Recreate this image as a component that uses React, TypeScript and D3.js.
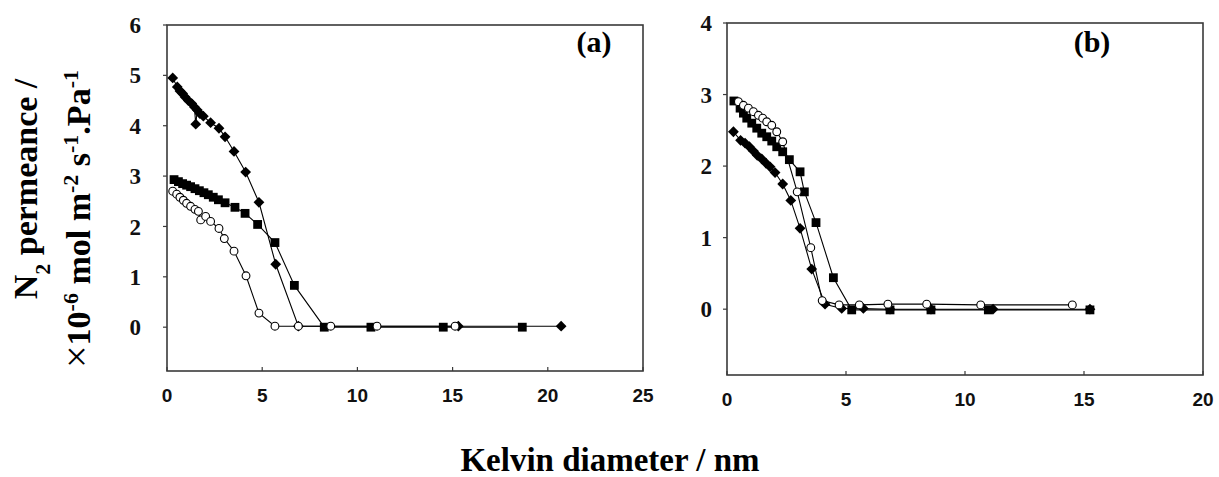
import React from "react";
import * as d3 from "d3";

// ---------- Panel (a) data ----------
const aDiamondX = [0.30,0.54,0.68,0.82,0.95,1.12,1.30,1.44,1.51,1.59,1.73,1.91,2.29,2.73,3.05,3.52,4.13,4.83,5.71,6.90,15.3,20.7];
const aDiamondY = [4.95,4.77,4.69,4.64,4.57,4.50,4.44,4.37,4.03,4.31,4.24,4.19,4.06,3.95,3.78,3.49,3.08,2.48,1.25,0.02,0.02,0.02];
const aSquareX = [0.37,0.60,0.82,1.03,1.24,1.47,1.70,1.94,2.17,2.43,2.70,3.05,3.57,4.10,4.76,5.67,6.69,8.26,10.71,14.51,18.66];
const aSquareY = [2.93,2.89,2.85,2.82,2.79,2.75,2.71,2.67,2.63,2.58,2.53,2.47,2.38,2.26,2.04,1.68,0.83,0.0,0.0,0.0,0.0];
const aCircleX = [0.30,0.51,0.68,0.86,1.03,1.24,1.47,1.65,1.77,2.03,2.29,2.73,3.01,3.52,4.15,4.83,5.67,6.90,8.60,11.03,15.13];
const aCircleY = [2.70,2.64,2.58,2.52,2.46,2.40,2.34,2.30,2.13,2.20,2.10,1.96,1.76,1.51,1.02,0.28,0.02,0.02,0.02,0.02,0.02];

// ---------- Panel (b) data ----------
const bSquareX = [0.29,0.55,0.69,0.83,1.04,1.25,1.46,1.67,1.88,2.09,2.34,2.62,3.07,3.25,3.74,4.47,5.24,6.85,8.57,10.98,15.25];
const bSquareY = [2.91,2.81,2.74,2.67,2.60,2.53,2.46,2.41,2.35,2.27,2.20,2.09,1.92,1.64,1.21,0.44,-0.01,-0.01,-0.01,-0.01,-0.01];
const bCircleX = [0.48,0.69,0.90,1.11,1.32,1.50,1.67,1.88,2.09,2.34,2.95,3.52,4.00,4.71,5.56,6.76,8.39,10.66,14.51];
const bCircleY = [2.90,2.85,2.81,2.76,2.71,2.67,2.62,2.57,2.48,2.34,1.64,0.86,0.12,0.06,0.06,0.07,0.07,0.06,0.06];
const bDiamondX = [0.27,0.57,0.76,0.94,1.11,1.27,1.46,1.64,1.81,2.02,2.34,2.68,3.07,3.56,4.12,4.82,5.73,6.85,8.57,11.18,15.25];
const bDiamondY = [2.48,2.36,2.32,2.27,2.21,2.15,2.10,2.04,1.99,1.91,1.75,1.52,1.13,0.56,0.07,0.01,0.01,0.0,0.0,0.0,0.0];

// ---------- Axis ticks ----------
const aXTicks = [0, 5, 10, 15, 20, 25];
const aYTicks = [0, 1, 2, 3, 4, 5, 6];
const bXTicks = [0, 5, 10, 15, 20];
const bYTicks = [0, 1, 2, 3, 4];

type Pt = [number, number];
const zip = (xs: number[], ys: number[]): Pt[] => xs.map((x, i) => [x, ys[i]]);

const FRAME = "#3a3a3a";
const SERIF = "'Liberation Serif', 'Times New Roman', serif";
const SANS = "'Liberation Sans', Arial, sans-serif";

function Marker({ kind, x, y }: { kind: string; x: number; y: number }) {
  if (kind === "diamond") {
    const r = 5.4;
    return <path d={`M${x},${y - r}L${x + r},${y}L${x},${y + r}L${x - r},${y}Z`} fill="#000" />;
  }
  if (kind === "square") {
    const s = 4.4;
    return <rect x={x - s} y={y - s} width={2 * s} height={2 * s} fill="#000" />;
  }
  return <circle cx={x} cy={y} r={3.9} fill="#fff" stroke="#000" strokeWidth={1.1} />;
}

function Panel({
  x0, x1, y0, y1, xDom, yDom, xTicks, yTicks, series, label, labelX, xLabelBase, yLabelEnd,
}: {
  x0: number; x1: number; y0: number; y1: number;
  xDom: [number, number]; yDom: [number, number];
  xTicks: number[]; yTicks: number[];
  series: { kind: string; pts: Pt[] }[];
  label: string; labelX: number; xLabelBase: number; yLabelEnd: number;
}) {
  const xs = d3.scaleLinear().domain(xDom).range([x0, x1]);
  const ys = d3.scaleLinear().domain(yDom).range([y1, y0]);
  const line = d3.line<Pt>().x((d) => xs(d[0])).y((d) => ys(d[1]));
  return (
    <g>
      <rect x={x0} y={y0} width={x1 - x0} height={y1 - y0} fill="none" stroke={FRAME} strokeWidth={1.6} />
      {xTicks.map((t) => (
        <g key={"xt" + t}>
          <line x1={xs(t)} x2={xs(t)} y1={y1} y2={y1 - 4} stroke={FRAME} strokeWidth={1.2} />
          <text x={xs(t)} y={xLabelBase} textAnchor="middle" fontFamily={SANS} fontWeight="bold" fontSize={19} fill="#111">
            {t}
          </text>
        </g>
      ))}
      {yTicks.map((t) => (
        <g key={"yt" + t}>
          <line x1={x0 - 4} x2={x0} y1={ys(t)} y2={ys(t)} stroke={FRAME} strokeWidth={1.2} />
          <text x={yLabelEnd} y={ys(t)} dy="0.35em" textAnchor="end" fontFamily={SERIF} fontWeight="bold" fontSize={23} fill="#111">
            {t}
          </text>
        </g>
      ))}
      {series.map((s, i) => (
        <path key={"l" + i} d={line(s.pts) || ""} fill="none" stroke="#000" strokeWidth={1.1} />
      ))}
      {series.map((s, i) => (
        <g key={"m" + i}>
          {s.pts.map((p, j) => (
            <Marker key={j} kind={s.kind} x={xs(p[0])} y={ys(p[1])} />
          ))}
        </g>
      ))}
      <text x={labelX} y={52} textAnchor="middle" fontFamily={SERIF} fontWeight="bold" fontSize={30} fill="#000">
        {label}
      </text>
    </g>
  );
}

export default function App() {
  const sup = { baselineShift: "super", fontSize: 22 } as React.CSSProperties;
  return (
    <div style={{ position: "absolute", left: 0, top: 0 }}>
      <svg width={1219} height={477} style={{ display: "block", background: "#fff" }}>
        <rect width={1219} height={477} fill="#fff" />
        <Panel
          x0={167} x1={643} y0={25} y1={371}
          xDom={[0, 25]} yDom={[-0.87, 6]}
          xTicks={aXTicks} yTicks={aYTicks}
          series={[
            { kind: "diamond", pts: zip(aDiamondX, aDiamondY) },
            { kind: "square", pts: zip(aSquareX, aSquareY) },
            { kind: "circle", pts: zip(aCircleX, aCircleY) },
          ]}
          label="(a)" labelX={594} xLabelBase={402} yLabelEnd={141}
        />
        <Panel
          x0={727} x1={1203} y0={23} y1={375}
          xDom={[0, 20]} yDom={[-0.92, 4]}
          xTicks={bXTicks} yTicks={bYTicks}
          series={[
            { kind: "diamond", pts: zip(bDiamondX, bDiamondY) },
            { kind: "square", pts: zip(bSquareX, bSquareY) },
            { kind: "circle", pts: zip(bCircleX, bCircleY) },
          ]}
          label="(b)" labelX={1092} xLabelBase={406} yLabelEnd={712}
        />
        <g transform="translate(37,189) rotate(-90)">
          <text textAnchor="middle" fontFamily={SERIF} fontWeight="bold" fontSize={34} fill="#000">
            N<tspan style={{ baselineShift: "sub", fontSize: 22 } as React.CSSProperties}>2</tspan> permeance /
          </text>
        </g>
        <g transform="translate(90,219) rotate(-90)">
          <text textAnchor="middle" fontFamily={SERIF} fontWeight="bold" fontSize={34} fill="#000">
            <tspan fontWeight="normal" fontSize={40}>×</tspan>10<tspan style={sup}>-6</tspan> mol m<tspan style={sup}>-2</tspan> s<tspan style={sup}>-1</tspan>.Pa<tspan style={sup}>-1</tspan>
          </text>
        </g>
        <text x={610} y={471} textAnchor="middle" fontFamily={SERIF} fontWeight="bold" fontSize={33} fill="#000">
          Kelvin diameter / nm
        </text>
      </svg>
    </div>
  );
}
